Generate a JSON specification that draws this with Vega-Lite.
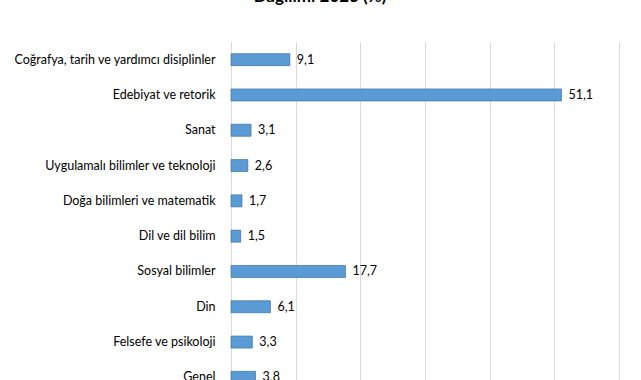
{
  "$schema": "https://vega.github.io/schema/vega-lite/v6.json",
  "autosize": {"type": "none"},
  "padding": {"left": 231, "top": 42, "right": 22, "bottom": 0},
  "width": 388,
  "height": 353,
  "background": "white",
  "title": {
    "text": "Dağılımı 2023 (%)",
    "anchor": "middle",
    "frame": "group",
    "dx": -105,
    "dy": -32,
    "font": "Lato",
    "fontSize": 17,
    "fontWeight": "bold",
    "color": "#000000"
  },
  "config": {
    "view": {"stroke": null},
    "locale": {"number": {"decimal": ",", "thousands": ".", "grouping": [3], "currency": ["", " TL"]}},
    "font": "Lato"
  },
  "data": {
    "values": [
      {"konu": "Coğrafya, tarih ve yardımcı disiplinler", "oran": 9.1},
      {"konu": "Edebiyat ve retorik", "oran": 51.1},
      {"konu": "Sanat", "oran": 3.1},
      {"konu": "Uygulamalı bilimler ve teknoloji", "oran": 2.6},
      {"konu": "Doğa bilimleri ve matematik", "oran": 1.7},
      {"konu": "Dil ve dil bilim", "oran": 1.5},
      {"konu": "Sosyal bilimler", "oran": 17.7},
      {"konu": "Din", "oran": 6.1},
      {"konu": "Felsefe ve psikoloji", "oran": 3.3},
      {"konu": "Genel", "oran": 3.8}
    ]
  },
  "encoding": {
    "y": {
      "field": "konu",
      "type": "nominal",
      "sort": null,
      "scale": {"paddingInner": 0, "paddingOuter": 0},
      "axis": {
        "title": null,
        "ticks": false,
        "domain": true,
        "domainColor": "#D9D9D9",
        "labelPadding": 16,
        "labelFontSize": 12.5,
        "labelColor": "#000000",
        "labelLimit": 400
      }
    },
    "x": {
      "field": "oran",
      "type": "quantitative",
      "scale": {"domain": [0, 60], "nice": false},
      "axis": {
        "title": null,
        "values": [0, 10, 20, 30, 40, 50, 60],
        "grid": true,
        "gridColor": "#D9D9D9",
        "gridWidth": 1,
        "domain": false,
        "ticks": false,
        "labels": false
      }
    }
  },
  "layer": [
    {
      "mark": {"type": "bar", "size": 12, "color": "#5B9BD5", "stroke": "#41719C", "strokeWidth": 0.7}
    },
    {
      "mark": {"type": "text", "align": "left", "baseline": "middle", "dx": 7, "fontSize": 12.5, "color": "#000000"},
      "encoding": {"text": {"field": "oran", "type": "quantitative", "format": ".1f"}}
    }
  ]
}
